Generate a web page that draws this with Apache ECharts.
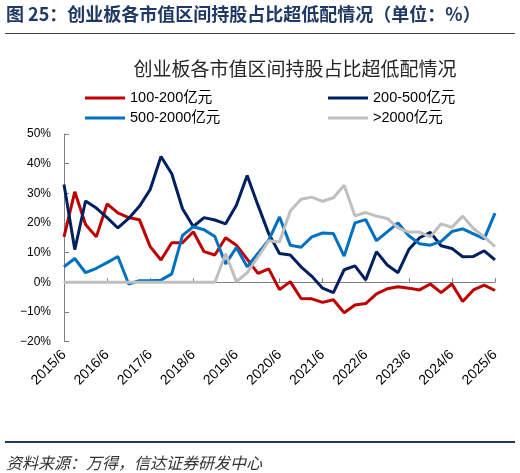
<!DOCTYPE html>
<html>
<head>
<meta charset="utf-8">
<script src="https://cdn.jsdelivr.net/npm/echarts@6/dist/echarts.min.js"></script>
<style>
html,body{margin:0;padding:0;background:#fff;}
#chart{width:520px;height:473px;}
</style>
</head>
<body>
<div id="chart"></div>
<script>
var categories = ['2015/6','2015/9','2015/12','2016/3','2016/6','2016/9','2016/12','2017/3','2017/6','2017/9','2017/12','2018/3','2018/6','2018/9','2018/12','2019/3','2019/6','2019/9','2019/12','2020/3','2020/6','2020/9','2020/12','2021/3','2021/6','2021/9','2021/12','2022/3','2022/6','2022/9','2022/12','2023/3','2023/6','2023/9','2023/12','2024/3','2024/6','2024/9','2024/12','2025/3','2025/6'];
var yTicks = [-20, -10, 0, 10, 20, 30, 40, 50];
var cap100_200 = [15.3,30.5,19.5,15.3,26.4,23.4,21.8,21.1,12,7.5,13.3,13.3,17,10.3,9.2,15,12.5,7.8,3,4.5,-2.5,0.2,-5.5,-5.6,-6.8,-5.9,-10.3,-7.7,-7.2,-3.9,-2.2,-1.5,-2,-2.6,-0.6,-3.5,-0.6,-6.5,-2.6,-1,-2.8];
var cap200_500 = [33,11,27.4,25,21.8,18.3,21.5,25.6,31.3,42.4,36.6,24.8,18.8,21.8,21,19.7,26,36,26,16.4,9.7,9.2,5.2,2,-2,-3.5,4.2,5.5,0.8,10.3,5.8,3.2,11,15,16.8,12.3,11.4,8.6,8.7,10.6,7.5];
var cap500_2000 = [5.2,8,3.2,4.7,6.6,8.7,-0.6,0.5,0.5,0.7,2.8,15.8,18.7,17.7,15.4,6.2,11.7,5.2,9.7,14.2,22,12.5,11.8,15.3,16.6,16.4,8.8,20,21.1,14,17,20,15.7,13,12.5,13.8,17.1,18,16.3,14.6,23.3];
var cap2000 = [0,0,0,0,0,0,0,0,0,0,0,0,0,0,0,9.6,0.2,3.2,8.5,14,13.6,24,28,28.7,27.3,28.5,32.7,22.4,23.5,22.3,21.5,18.3,16.9,16.9,15.3,19.7,18.5,22.3,18.1,15.3,12];
var seriesNames = ['100-200亿元','200-500亿元','500-2000亿元','>2000亿元'];
var seriesColors = ['#C00000','#002060','#0070C0','#BFBFBF'];

var FONT = "'Liberation Sans', 'Noto Sans CJK SC', sans-serif";
var CJK = "'Noto Sans CJK SC', sans-serif";

var chart = echarts.init(document.getElementById('chart'), null, {renderer:'canvas'});
var dataList = [cap100_200, cap200_500, cap500_2000, cap2000];
var series = dataList.map(function(d, k){
  return {
    name: seriesNames[k], type:'line', data:d, symbol:'none',
    lineStyle:{width:3, color:seriesColors[k]}, itemStyle:{color:seriesColors[k]},
    z: 2 + k, animation:false
  };
});
var legendCommon = {
  orient:'vertical', top:85, itemWidth:40, itemHeight:3, itemGap:4, icon:'rect',
  textStyle:{fontSize:14.5, color:'#000', fontFamily:FONT, lineHeight:16}
};
chart.setOption({
  animation:false,
  grid:{left:64, right:25, top:134, bottom:131.5, containLabel:false},
  legend:[
    Object.assign({left:80, data:[seriesNames[0], seriesNames[2]]}, legendCommon),
    Object.assign({left:323, data:[seriesNames[1], seriesNames[3]]}, legendCommon)
  ],
  xAxis:[
    {type:'category', data:categories, boundaryGap:false, position:'bottom',
     axisLine:{show:false, onZero:false}, axisTick:{show:false},
     axisLabel:{interval:3, rotate:45, fontSize:14, color:'#000', margin:11, fontFamily:FONT}},
    {type:'category', data:categories, boundaryGap:false, position:'bottom',
     axisLine:{show:true, onZero:true, lineStyle:{color:'#808080', width:1}},
     axisTick:{show:true, inside:true, interval:3, length:4, lineStyle:{color:'#808080'}},
     axisLabel:{show:false}}
  ],
  yAxis:{type:'value', min:yTicks[0], max:yTicks[yTicks.length-1], interval:10,
    axisLine:{show:true, lineStyle:{color:'#808080', width:1}},
    axisTick:{show:true, inside:true, length:5, lineStyle:{color:'#808080'}},
    splitLine:{show:false},
    axisLabel:{fontSize:12, color:'#000', margin:13, fontFamily:FONT,
      formatter:function(v){ return (v<0 ? '\u2212' + Math.abs(v) : v) + '%'; }}
  },
  series:series,
  graphic:[
    {type:'text', x:6, y:14, style:{text:'图 25：创业板各市值区间持股占比超低配情况（单位：%）', font:'bold 18px ' + CJK, fill:'#1F3864', verticalAlign:'middle', align:'left'}},
    {type:'line', shape:{x1:5, y1:33.5, x2:515, y2:33.5}, style:{stroke:'#404040', lineWidth:1}},
    {type:'text', x:295, y:69, style:{text:'创业板各市值区间持股占比超低配情况', font:'19px ' + CJK, fill:'#262626', verticalAlign:'middle', align:'center'}},
    {type:'line', shape:{x1:5, y1:442, x2:515, y2:442}, style:{stroke:'#1F3864', lineWidth:2}},
    {type:'text', x:6, y:463, style:{text:'资料来源：万得，信达证券研发中心', font:'italic 16px ' + CJK, fill:'#333333', verticalAlign:'middle', align:'left'}}
  ]
});
</script>
</body>
</html>
